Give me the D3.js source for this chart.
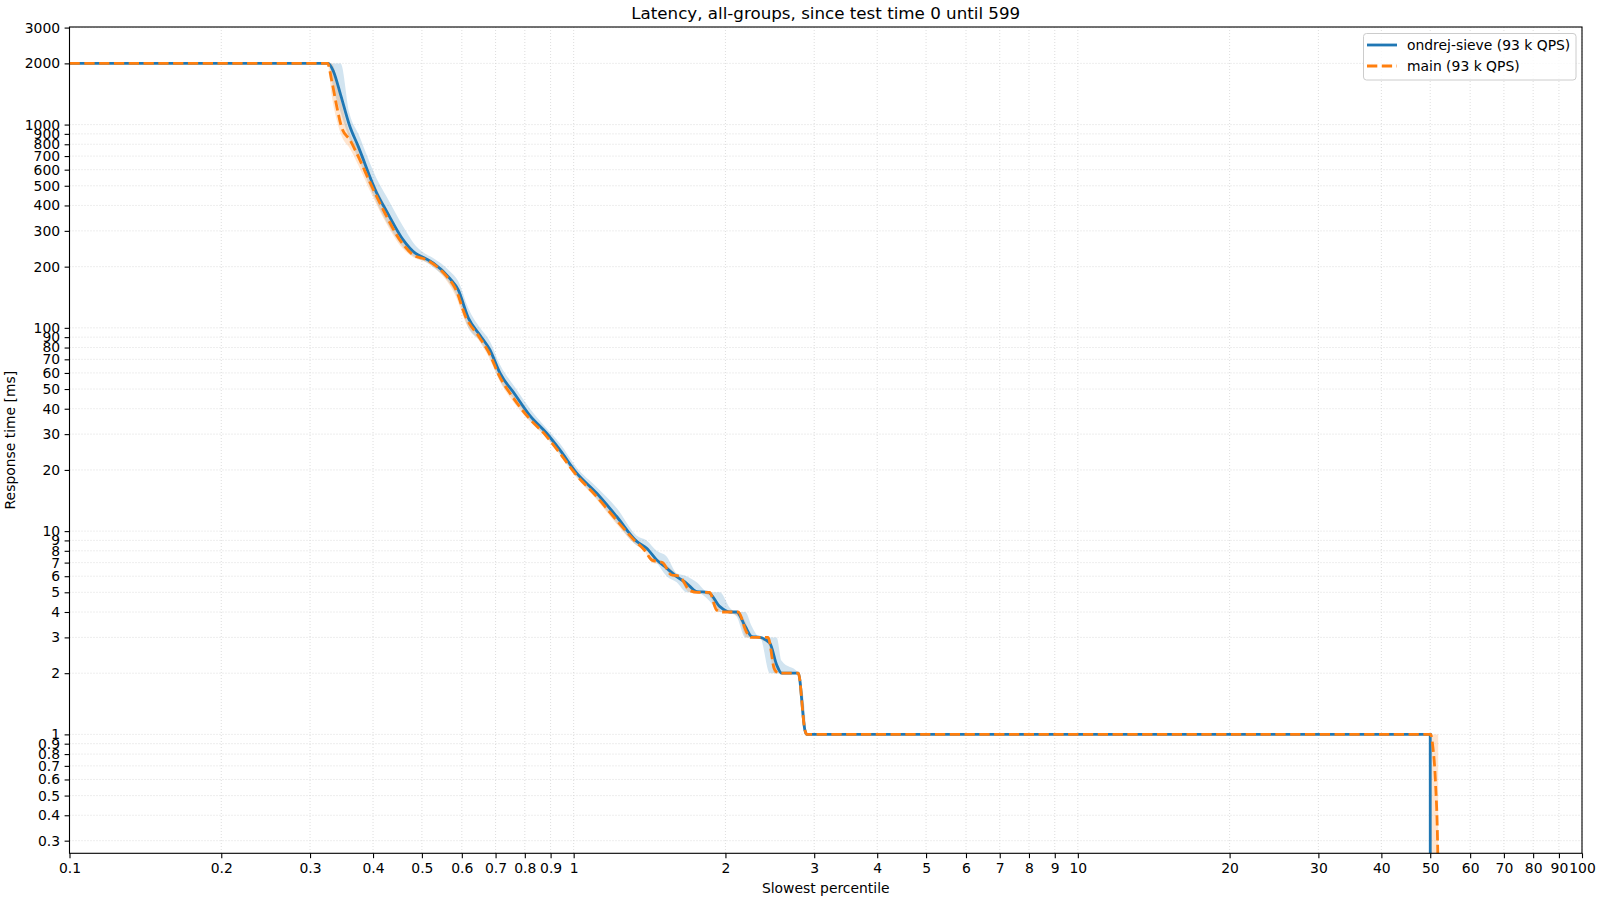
<!DOCTYPE html>
<html>
<head>
<meta charset="utf-8">
<script src="https://cdn.jsdelivr.net/npm/d3@7"></script>
<style>
  body { margin: 0; background: #fff; }
  svg { font-family: "DejaVu Sans", sans-serif; }
</style>
</head>
<body>
<svg></svg>
<script>
const width = 1600;
const height = 900;

// ondrej-sieve: slowest percentile -> response time [ms], with min/max band
const sievePct = [0.1, 0.326, 0.334, 0.345, 0.359, 0.374, 0.407, 0.426, 0.459, 0.485, 0.507, 0.527, 0.568, 0.59,
  0.618, 0.652, 0.682, 0.714, 0.765, 0.819, 0.884, 0.939, 1.014, 1.11, 1.217, 1.334, 1.396, 1.461, 1.529, 1.601,
  1.675, 1.754, 1.849, 1.95, 2.04, 2.105, 2.19, 2.255, 2.342, 2.45, 2.527, 2.585, 2.79, 2.875, 2.9, 50, 50.01];
const sieveMs = [2000, 2000, 1820, 1400, 995, 779, 459, 373, 271, 233, 220, 208, 175, 154,
  112, 92, 78, 60, 47, 37, 30.3, 25.1, 19.3, 15.4, 11.8, 8.9, 8.24, 7.22, 6.57, 5.97,
  5.54, 5.04, 5.0, 4.25, 4.0, 4.0, 3.39, 3.03, 3.0, 2.81, 2.2, 2.0, 2.0, 1.05, 1.0, 1.0, 0.1];
const sieveLo = [2000, 2000, 1500, 1150, 850, 680, 410, 330, 250, 222, 212, 198, 165, 140,
  100, 86, 72, 55, 44, 35, 29, 24, 18.5, 14.5, 11, 8.5, 8, 7, 6, 5.6,
  5, 5, 4.6, 4, 4, 3.8, 3, 3, 3, 2, 2, 2, 2, 1, 1, 1, 0.1];
const sieveHi = [2000, 2000, 2000, 2000, 1140, 900, 540, 440, 315, 255, 232, 220, 190, 170,
  125, 100, 86, 66, 51, 40, 32, 27, 20.5, 16.5, 13, 9.5, 9, 8, 7.5, 6.2,
  6, 5.6, 5, 5, 4.2, 4, 4, 3.4, 3, 3, 3, 2.3, 2, 1.3, 1, 1, 0.1];

// main
const mainPct = [0.1, 0.325, 0.331, 0.339, 0.347, 0.36, 0.374, 0.398, 0.4225, 0.452, 0.481, 0.511, 0.56, 0.582,
  0.612, 0.65, 0.68, 0.712, 0.76, 0.815, 0.88, 0.935, 1.01, 1.105, 1.21, 1.32, 1.38, 1.43, 1.5, 1.56,
  1.62, 1.7, 1.76, 1.86, 1.92, 1.97, 2.12, 2.2, 2.25, 2.43, 2.5, 2.55, 2.79, 2.875, 2.9, 49.95, 50.0, 50.1,
  50.6, 51.2, 51.7, 51.85];
const mainMs = [2000, 2000, 1657, 1225, 959, 840, 695, 495, 366, 271, 228, 216, 179, 157,
  112, 90, 75, 58, 45, 36, 29.6, 24.5, 19, 15, 11.5, 9, 8.1, 7.2, 7.0, 6.1,
  6.0, 5.1, 5.0, 5.0, 4.1, 4.0, 4.0, 3.2, 3.0, 3.0, 2.1, 2.0, 2.0, 1.05, 1.0, 1.0, 1.0, 1.0,
  0.87, 0.59, 0.3, 0.2];
const mainLo = [2000, 2000, 1400, 1050, 870, 760, 630, 450, 335, 255, 222, 210, 170, 145,
  105, 86, 71, 55, 43, 35, 29, 24, 18.5, 14.5, 11, 8.7, 8, 7, 6.8, 6,
  5.8, 5, 5, 4.8, 4, 4, 3.8, 3, 3, 2.8, 2, 2, 2, 1, 1, 1, 0.1, 0.1,
  0.1, 0.1, 0.1, 0.1];
const mainHi = [2000, 2000, 2000, 1700, 1250, 900, 760, 540, 400, 290, 236, 222, 185, 165,
  118, 95, 79, 61, 47, 37.5, 30.5, 25.5, 19.5, 15.5, 12, 9.3, 8.3, 7.5, 7.1, 6.5,
  6, 5.5, 5, 5, 4.5, 4, 4, 3.5, 3, 3, 2.5, 2, 2, 1.2, 1, 1, 1, 1,
  1, 1, 1, 1];

const xTicks = [0.1, 0.2, 0.3, 0.4, 0.5, 0.6, 0.7, 0.8, 0.9, 1, 2, 3, 4, 5, 6, 7, 8, 9, 10,
  20, 30, 40, 50, 60, 70, 80, 90, 100];
const yTicks = [0.3, 0.4, 0.5, 0.6, 0.7, 0.8, 0.9, 1, 2, 3, 4, 5, 6, 7, 8, 9, 10,
  20, 30, 40, 50, 60, 70, 80, 90, 100, 200, 300, 400, 500, 600, 700, 800, 900, 1000, 2000, 3000];

const seriesNames = ["ondrej-sieve (93 k QPS)", "main (93 k QPS)"];
const colors = ["#1f77b4", "#ff7f0e"];

const pl = 69.5, pr = 1582, pt = 27, pb = 853.3;

let svg = d3.select("svg")
    .attr("width", width)
    .attr("height", height);

let x = d3.scaleLog().domain([0.1, 100]).range([pl, pr]);
let y = d3.scaleLog().domain([0.26, 3020]).range([pb, pt]);

svg.append("defs").append("clipPath").attr("id", "plot")
    .append("rect")
    .attr("x", pl).attr("y", pt)
    .attr("width", pr - pl).attr("height", pb - pt);

// grid
let grid = svg.append("g")
    .attr("stroke", "#d4d4d4")
    .attr("stroke-width", 0.8)
    .attr("stroke-dasharray", "1,2");
grid.selectAll(".gx").data(xTicks).join("line")
    .attr("x1", d => x(d)).attr("x2", d => x(d))
    .attr("y1", pt).attr("y2", pb);
grid.selectAll(".gy").data(yTicks).join("line")
    .attr("x1", pl).attr("x2", pr)
    .attr("y1", d => y(d)).attr("y2", d => y(d));

let fmt = d3.format("~g");

let plot = svg.append("g").attr("clip-path", "url(#plot)");

function toRows(pct, ms, lo, hi) {
    return pct.map((p, i) => ({p: p, v: ms[i], lo: lo[i], hi: hi[i]}));
}
const rows = [
    toRows(sievePct, sieveMs, sieveLo, sieveHi),
    toRows(mainPct, mainMs, mainLo, mainHi)
];

let area = d3.area()
    .curve(d3.curveMonotoneX)
    .x(d => x(d.p))
    .y0(d => y(d.lo))
    .y1(d => y(d.hi));

let line = d3.line()
    .curve(d3.curveMonotoneX)
    .x(d => x(d.p))
    .y(d => y(d.v));

rows.forEach((r, i) => {
    plot.append("path")
        .attr("d", area(r))
        .attr("fill", colors[i])
        .attr("fill-opacity", 0.2)
        .attr("stroke", "none");
});

rows.forEach((r, i) => {
    plot.append("path")
        .attr("d", line(r))
        .attr("fill", "none")
        .attr("stroke", colors[i])
        .attr("stroke-width", 2.8)
        .attr("stroke-dasharray", i == 1 ? "10.3,4.5" : null);
});

// axes
let xAxis = d3.axisBottom(x).tickValues(xTicks).tickFormat(fmt).tickSize(4.9).tickPadding(4.5);
let yAxis = d3.axisLeft(y).tickValues(yTicks).tickFormat(fmt).tickSize(4.9).tickPadding(4.5);

let gx = svg.append("g").attr("transform", `translate(0,${pb})`).call(xAxis);
let gy = svg.append("g").attr("transform", `translate(${pl},0)`).call(yAxis);
[gx, gy].forEach(g => {
    g.select(".domain").remove();
    g.selectAll("text").attr("font-size", 13.9).attr("fill", "#000")
        .attr("font-family", "DejaVu Sans");
    g.selectAll("line").attr("stroke", "#000").attr("stroke-width", 1.1);
});

svg.append("rect")
    .attr("x", pl).attr("y", pt)
    .attr("width", pr - pl).attr("height", pb - pt)
    .attr("fill", "none")
    .attr("stroke", "#000")
    .attr("stroke-width", 1.1);

// titles
svg.append("text")
    .attr("x", (pl + pr) / 2).attr("y", 18.5)
    .attr("text-anchor", "middle")
    .attr("font-size", 16.7)
    .text("Latency, all-groups, since test time 0 until 599");

svg.append("text")
    .attr("x", (pl + pr) / 2).attr("y", 893)
    .attr("text-anchor", "middle")
    .attr("font-size", 13.9)
    .text("Slowest percentile");

svg.append("text")
    .attr("transform", `translate(15,${(pt + pb) / 2}) rotate(-90)`)
    .attr("text-anchor", "middle")
    .attr("font-size", 13.9)
    .text("Response time [ms]");

// legend
let legend = svg.append("g");
legend.append("rect")
    .attr("x", 1363.5).attr("y", 33.5)
    .attr("width", 212.5).attr("height", 46.5)
    .attr("rx", 3)
    .attr("fill", "#fff").attr("fill-opacity", 0.8)
    .attr("stroke", "#cccccc");
seriesNames.forEach((name, i) => {
    let ly = 45 + i * 21;
    legend.append("line")
        .attr("x1", 1367).attr("x2", 1397)
        .attr("y1", ly).attr("y2", ly)
        .attr("stroke", colors[i])
        .attr("stroke-width", 2.8)
        .attr("stroke-dasharray", i == 1 ? "10.3,4.5" : null);
    legend.append("text")
        .attr("x", 1407).attr("y", ly + 5)
        .attr("font-size", 13.9)
        .text(name);
});
</script>
</body>
</html>
